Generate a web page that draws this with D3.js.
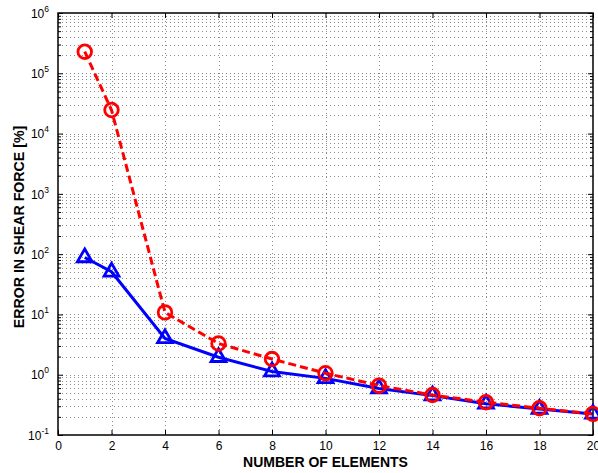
<!DOCTYPE html>
<html>
<head>
<meta charset="utf-8">
<script src="https://cdn.jsdelivr.net/npm/d3@7"></script>
<style>
  body { margin: 0; background: #fff; }
  svg { display: block; font-family: "Liberation Sans", Arial, Helvetica, sans-serif; }
</style>
</head>
<body>
<script>
// number of elements (x) and error in shear force [%] for the two formulations
const elements = [1, 2, 4, 6, 8, 10, 12, 14, 16, 18, 20]
const errorCircles = [2.28e5, 2.46e4, 10.8, 3.3, 1.82, 1.06, 0.66, 0.46, 0.35, 0.278, 0.224]
const errorTriangles = [88, 51, 4.0, 1.95, 1.13, 0.87, 0.59, 0.45, 0.33, 0.27, 0.224]
const xTicks = [0, 2, 4, 6, 8, 10, 12, 14, 16, 18, 20]
const yExponents = [-1, 0, 1, 2, 3, 4, 5, 6]

const W = 598, H = 473
const margin = { top: 13, right: 5, bottom: 38, left: 58 }
const x = d3.scaleLinear().domain([0, 20]).range([margin.left, W - margin.right])
const y = d3.scaleLog().domain([0.1, 1e6]).range([H - margin.bottom, margin.top])

const svg = d3.select('body').append('svg')
  .attr('width', W)
  .attr('height', H)

const majorY = yExponents.map(e => Math.pow(10, e))
const minorY = yExponents.slice(0, -1)
  .flatMap(e => d3.range(2, 10).map(m => m * Math.pow(10, e)))

// dotted grid
const grid = svg.append('g')
  .attr('stroke', '#000')
  .attr('stroke-opacity', 0.45)
  .attr('stroke-width', 1)
  .attr('stroke-dasharray', '1,3')
grid.selectAll('line.gx')
  .data(xTicks.slice(1, -1))
  .enter().append('line')
  .attr('x1', d => Math.round(x(d)) + 0.5).attr('x2', d => Math.round(x(d)) + 0.5)
  .attr('y1', y.range()[1]).attr('y2', y.range()[0])
grid.selectAll('line.gy')
  .data(majorY.slice(1, -1).concat(minorY))
  .enter().append('line')
  .attr('y1', d => Math.round(y(d)) + 0.5).attr('y2', d => Math.round(y(d)) + 0.5)
  .attr('x1', x.range()[0]).attr('x2', x.range()[1])

// axes with inward ticks on all four sides
const axisStyle = g => {
  g.select('.domain').remove()
  g.selectAll('.tick line').attr('stroke', '#000')
  g.selectAll('text').attr('font-size', 12).attr('fill', '#000')
}
svg.append('g')
  .attr('transform', `translate(0,${y.range()[0]})`)
  .call(d3.axisBottom(x).tickValues(xTicks).tickSize(-5).tickPadding(6))
  .call(axisStyle)
svg.append('g')
  .attr('transform', `translate(0,${y.range()[1]})`)
  .call(d3.axisTop(x).tickValues(xTicks).tickSize(-5).tickFormat(''))
  .call(axisStyle)

const yLeft = svg.append('g')
  .attr('transform', `translate(${x.range()[0]},0)`)
  .call(d3.axisLeft(y).tickValues(majorY).tickSize(-5).tickFormat(''))
  .call(axisStyle)
yLeft.selectAll('.tick')
  .append('text')
  .attr('x', -9)
  .attr('dy', '0.35em')
  .attr('text-anchor', 'end')
  .attr('fill', '#000')
  .attr('font-size', 12)
  .each(function (d) {
    const t = d3.select(this)
    t.append('tspan').text('10')
    t.append('tspan').attr('dy', -6).attr('font-size', 8.5).text(Math.round(Math.log10(d)))
  })
svg.append('g')
  .attr('transform', `translate(${x.range()[0]},0)`)
  .call(d3.axisLeft(y).tickValues(minorY).tickSize(-3).tickFormat(''))
  .call(axisStyle)
svg.append('g')
  .attr('transform', `translate(${x.range()[1]},0)`)
  .call(d3.axisRight(y).tickValues(majorY).tickSize(-5).tickFormat(''))
  .call(axisStyle)
svg.append('g')
  .attr('transform', `translate(${x.range()[1]},0)`)
  .call(d3.axisRight(y).tickValues(minorY).tickSize(-3).tickFormat(''))
  .call(axisStyle)

svg.append('rect')
  .attr('x', x.range()[0]).attr('y', y.range()[1])
  .attr('width', x.range()[1] - x.range()[0])
  .attr('height', y.range()[0] - y.range()[1])
  .attr('fill', 'none')
  .attr('stroke', '#000')
  .attr('stroke-width', 1.5)

// series
const line = d3.line().x(d => x(d[0])).y(d => y(d[1]))
const tri = elements.map((e, i) => [e, errorTriangles[i]])
const circ = elements.map((e, i) => [e, errorCircles[i]])

svg.append('path')
  .datum(tri)
  .attr('d', line)
  .attr('fill', 'none')
  .attr('stroke', '#0000ff')
  .attr('stroke-width', 3)
svg.selectAll('path.tri')
  .data(tri)
  .enter().append('path')
  .attr('class', 'tri')
  .attr('d', d3.symbol(d3.symbolTriangle, 95))
  .attr('transform', d => `translate(${x(d[0])},${y(d[1])})`)
  .attr('fill', 'none')
  .attr('stroke', '#0000ff')
  .attr('stroke-width', 2.8)

svg.append('path')
  .datum(circ)
  .attr('d', line)
  .attr('fill', 'none')
  .attr('stroke', '#ff0000')
  .attr('stroke-width', 3)
  .attr('stroke-dasharray', '8,4')
svg.selectAll('circle.c')
  .data(circ)
  .enter().append('circle')
  .attr('class', 'c')
  .attr('cx', d => x(d[0]))
  .attr('cy', d => y(d[1]))
  .attr('r', 6.8)
  .attr('fill', 'none')
  .attr('stroke', '#ff0000')
  .attr('stroke-width', 2.8)

// axis titles
svg.append('text')
  .attr('x', (x.range()[0] + x.range()[1]) / 2)
  .attr('y', 467)
  .attr('text-anchor', 'middle')
  .attr('font-size', 14)
  .attr('font-weight', 'bold')
  .text('NUMBER OF ELEMENTS')
svg.append('text')
  .attr('transform', `translate(24,${(y.range()[0] + y.range()[1]) / 2 + 3}) rotate(-90)`)
  .attr('text-anchor', 'middle')
  .attr('font-size', 14.2)
  .attr('font-weight', 'bold')
  .text('ERROR IN SHEAR FORCE [%]')
</script>
</body>
</html>
